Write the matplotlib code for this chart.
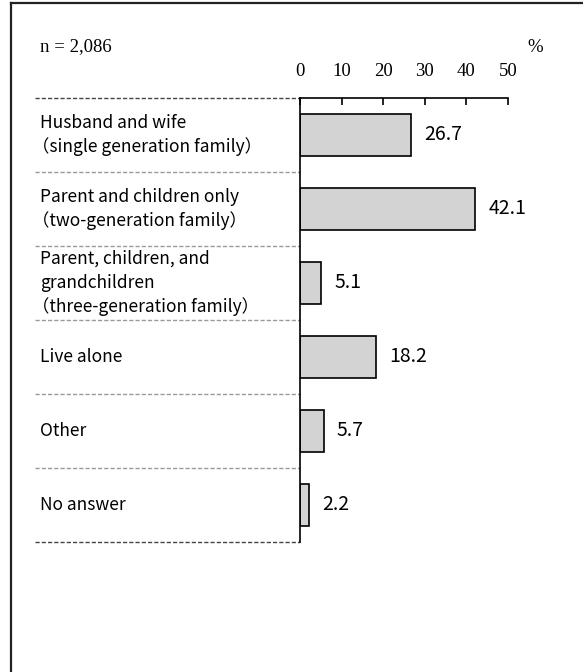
import matplotlib
matplotlib.use("Agg")
import matplotlib.pyplot as plt
from matplotlib.lines import Line2D
import matplotlib.transforms as mtransforms

categories = [
    "Husband and wife\n（single generation family）",
    "Parent and children only\n（two-generation family）",
    "Parent, children, and\ngrandchildren\n（three-generation family）",
    "Live alone",
    "Other",
    "No answer",
]
values = [26.7, 42.1, 5.1, 18.2, 5.7, 2.2]
ticks = [0, 10, 20, 30, 40, 50]
n_label = "n = 2,086"

W, H = 583, 672
fig = plt.figure(figsize=(W / 100, H / 100), dpi=100)
ax = fig.add_axes([300 / W, 1 - 542 / H, 208 / W, 444 / H])

serif = ["Liberation Serif", "DejaVu Serif"]
sans = ["Noto Sans CJK JP", "DejaVu Sans"]

y = list(range(len(categories)))
ax.barh(y, values, height=0.58, color="#d3d3d3", edgecolor="black", linewidth=1.2)

ax.set_xlim(0, 50)
ax.set_ylim(len(categories) - 0.5, -0.5)
ax.set_xticks(ticks)
ax.xaxis.tick_top()
ax.tick_params(axis="x", direction="in", length=5, width=1.2, pad=13, labelsize=13.5)
for lbl in ax.get_xticklabels():
    lbl.set_fontfamily(serif)
ax.set_yticks([])
for s in ["right", "bottom"]:
    ax.spines[s].set_visible(False)
ax.spines["left"].set_linewidth(1.2)
ax.spines["top"].set_linewidth(1.2)

# row labels (line by line, so the full-width bracket can sit at the margin)
trans = mtransforms.blended_transform_factory(ax.transAxes, ax.transData)
line_px = 24
for i, (cat, v) in enumerate(zip(categories, values)):
    lines = cat.split("\n")
    for j, txt in enumerate(lines):
        dy = -(j - (len(lines) - 1) / 2) * line_px * 0.72
        dx = -6 if txt.startswith("（") else 0
        ax.annotate(txt, xy=(-1.25, i), xycoords=trans, xytext=(dx, dy),
                    textcoords="offset points", ha="left", va="center",
                    fontsize=12.5, family=sans)
    ax.annotate(f"{v}", xy=(v, i), xytext=(9.5, 0), textcoords="offset points",
                ha="left", va="center", fontsize=14, family=sans)

# dashed separators
for k in range(len(categories) + 1):
    edge = k in (0, len(categories))
    ax.plot([-1.274, 0], [k - 0.5, k - 0.5], transform=trans, clip_on=False,
            color="#444444" if edge else "#999999", lw=1.0, ls=(0, (3, 1.5)))

# header texts
fig.text(40 / W, 1 - 47 / H, n_label, ha="left", va="center", fontsize=13.5, family=serif)
fig.text(535 / W, 1 - 47 / H, "%", ha="center", va="center", fontsize=13.5, family=serif)

# outer frame (only left and top edges are visible)
fig.add_artist(Line2D([11 / W, 11 / W], [0, 1 - 3 / H], color="#222222", lw=1.6))
fig.add_artist(Line2D([11 / W, 1], [1 - 3 / H, 1 - 3 / H], color="#222222", lw=1.6))

fig.savefig("out.png", dpi=100)
